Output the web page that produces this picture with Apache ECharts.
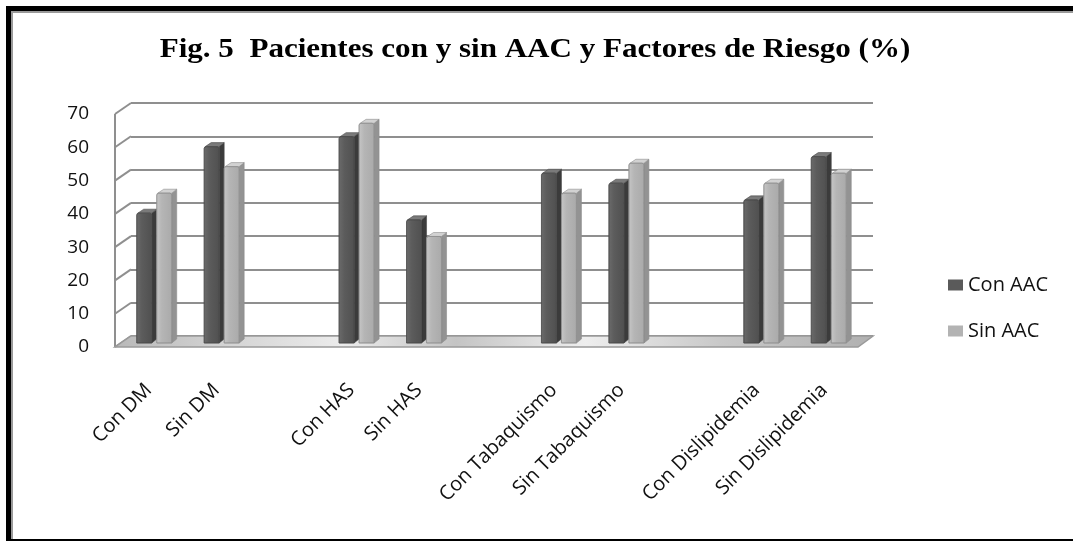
<!DOCTYPE html>
<html>
<head>
<meta charset="utf-8">
<title>Fig. 5</title>
<script src="https://cdn.jsdelivr.net/npm/echarts@6/dist/echarts.min.js"></script>
<style>
  html, body { margin: 0; padding: 0; background: #fff; }
  #chart { width: 1073px; height: 541px; }
</style>
</head>
<body>
<div id="chart"></div>
<script>
// Percent of patients with / without AAC for each risk factor.
// Empty strings are spacer slots between factor groups.
const categories = ['Con DM', 'Sin DM', '', 'Con HAS', 'Sin HAS', '', 'Con Tabaquismo', 'Sin Tabaquismo', '', 'Con Dislipidemia', 'Sin Dislipidemia'];
const conAAC = [39, 59, null, 62, 37, null, 51, 48, null, 43, 56];
const sinAAC = [45, 53, null, 66, 32, null, 45, 54, null, 48, 51];
const yTicks = { min: 0, max: 70, step: 10 };
const seriesNames = ['Con AAC', 'Sin AAC'];
const titleText = 'Fig. 5  Pacientes con y sin AAC y Factores de Riesgo (%)';

const W = 1073, H = 541;
// back wall of the 3D box and its front edge
const back = { left: 131, right: 873, top: 103, bottom: 336 };
const front = { left: 115, right: 858, top: 114, bottom: 347 };
// bars stand halfway between the back wall and the front edge
const depthShift = { x: -8, y: 7 };
const barFace = 15, barSide = 5, barRise = 4, barSlot = 20;

const palette = [
  { face: ['#6b6b6b', '#5c5c5c', '#505050'], side: '#3b3b3b', top: '#7a7a7a', stroke: '#4a4a4a' },
  { face: ['#c6c6c6', '#b5b5b5', '#aaaaaa'], side: '#939393', top: '#d2d2d2', stroke: '#8e8e8e' }
];

function faceGradient(c) {
  return new echarts.graphic.LinearGradient(0, 0, 1, 0, [
    { offset: 0, color: c[0] }, { offset: 0.35, color: c[1] }, { offset: 1, color: c[2] }
  ]);
}

function makeRender(si) {
  return function (params, api) {
    const v = api.value(1);
    if (v == null || isNaN(v)) return null;
    const idx = api.value(0);
    const pTop = api.coord([idx, v]);
    const pBase = api.coord([idx, 0]);
    const cx = pTop[0] + depthShift.x;
    const yt = pTop[1] + depthShift.y;
    const yb = pBase[1] + depthShift.y;
    const x0 = cx - barSlot + si * barSlot;
    const c = palette[si];
    return {
      type: 'group',
      children: [
        {
          type: 'polygon',
          shape: { points: [[x0 + barFace, yt], [x0 + barFace + barSide, yt - barRise], [x0 + barFace + barSide, yb - barRise], [x0 + barFace, yb]] },
          style: { fill: c.side, stroke: c.stroke, lineWidth: 0.6 }
        },
        {
          type: 'polygon',
          shape: { points: [[x0 + 1, yt], [x0 + barFace, yt], [x0 + barFace + barSide, yt - barRise], [x0 + barSide + 2, yt - barRise]] },
          style: { fill: c.top, stroke: c.stroke, lineWidth: 0.6 }
        },
        {
          type: 'rect',
          shape: { x: x0, y: yt, width: barFace, height: yb - yt, r: [2, 2, 0, 0] },
          style: { fill: faceGradient(c.face), stroke: c.stroke, lineWidth: 0.6 }
        }
      ]
    };
  };
}

const chart = echarts.init(document.getElementById('chart'), null, { renderer: 'canvas' });

const labelFont = '"Open Sans", "Noto Sans", sans-serif';

chart.setOption({
  animation: false,
  backgroundColor: '#ffffff',
  legend: {
    orient: 'vertical',
    left: 943,
    top: 270,
    itemWidth: 15,
    itemHeight: 11,
    itemGap: 26,
    icon: 'rect',
    textStyle: { fontFamily: labelFont, fontSize: 20, color: '#111' },
    data: seriesNames
  },
  grid: [
    { left: back.left, right: W - back.right, top: back.top, bottom: H - back.bottom },
    { left: front.left, right: W - front.right, top: front.top, bottom: H - front.bottom }
  ],
  xAxis: [
    { type: 'category', gridIndex: 0, data: categories, axisLine: { show: false }, axisTick: { show: false }, axisLabel: { show: false } },
    {
      type: 'category', gridIndex: 1, data: categories,
      axisLine: { show: false }, axisTick: { show: false },
      axisLabel: { rotate: 45, margin: 40, interval: 0, fontFamily: labelFont, fontSize: 20, color: '#111' }
    }
  ],
  yAxis: [
    {
      type: 'value', gridIndex: 0, min: yTicks.min, max: yTicks.max, interval: yTicks.step,
      axisLine: { show: false }, axisTick: { show: false }, axisLabel: { show: false },
      splitLine: { show: true, lineStyle: { color: '#8f8f8f', width: 2 } }
    },
    {
      type: 'value', gridIndex: 1, min: yTicks.min, max: yTicks.max, interval: yTicks.step,
      axisLine: { show: false }, axisTick: { show: false }, splitLine: { show: false },
      axisLabel: { margin: 26, fontFamily: labelFont, fontSize: 19, color: '#111' }
    }
  ],
  series: [
    {
      name: seriesNames[0], type: 'custom', xAxisIndex: 0, yAxisIndex: 0, z: 5,
      itemStyle: { color: '#5a5a5a' },
      renderItem: makeRender(0),
      data: conAAC.map((v, i) => [i, v])
    },
    {
      name: seriesNames[1], type: 'custom', xAxisIndex: 0, yAxisIndex: 0, z: 5,
      itemStyle: { color: '#b3b3b3' },
      renderItem: makeRender(1),
      data: sinAAC.map((v, i) => [i, v])
    }
  ]
});

// Box decoration: left wall edges and the floor, placed with the axis scales.
function decorate() {
  const yb = v => chart.convertToPixel({ yAxisIndex: 0 }, v);
  const yf = v => chart.convertToPixel({ yAxisIndex: 1 }, v);
  const els = [];
  for (let v = yTicks.min; v <= yTicks.max; v += yTicks.step) {
    els.push({ type: 'line', z: 1, shape: { x1: front.left, y1: yf(v), x2: back.left, y2: yb(v) }, style: { stroke: '#8f8f8f', lineWidth: 2 } });
  }
  els.push({ type: 'line', z: 1, shape: { x1: front.left, y1: yf(yTicks.min), x2: front.left, y2: yf(yTicks.max) }, style: { stroke: '#8f8f8f', lineWidth: 2 } });
  els.push({
    type: 'polygon', z: 2,
    shape: { points: [[front.left, yf(0)], [front.right, yf(0)], [back.right, yb(0)], [back.left, yb(0)]] },
    style: {
      fill: new echarts.graphic.LinearGradient(0, 0, 1, 0, [
        { offset: 0, color: '#b8b8b8' }, { offset: 0.12, color: '#cfcfcf' }, { offset: 0.3, color: '#ececec' },
        { offset: 0.45, color: '#c4c4c4' }, { offset: 0.62, color: '#eeeeee' }, { offset: 0.8, color: '#c8c8c8' }, { offset: 1, color: '#b0b0b0' }
      ]),
      stroke: '#9a9a9a', lineWidth: 1.5
    }
  });
  // chart title, widened to the book-face proportions
  els.push({
    type: 'text', z: 10, x: 535, y: 50, scaleX: 1.15,
    style: {
      text: titleText, textAlign: 'center', textVerticalAlign: 'middle',
      font: 'bold 27px "Liberation Serif", "DejaVu Serif", serif', fill: '#000'
    }
  });
  // page frame
  els.push({ type: 'rect', z: 10, shape: { x: 6, y: 6, width: W - 6, height: 5 }, style: { fill: '#000' } });
  els.push({ type: 'rect', z: 10, shape: { x: 6, y: 6, width: 5, height: H - 6 }, style: { fill: '#000' } });
  els.push({ type: 'rect', z: 10, shape: { x: 11, y: 11, width: W - 11, height: 2 }, style: { fill: '#9a9a9a' } });
  els.push({ type: 'rect', z: 10, shape: { x: 11, y: 11, width: 2, height: H - 11 }, style: { fill: '#9a9a9a' } });
  els.push({ type: 'rect', z: 10, shape: { x: 6, y: H - 2, width: W - 6, height: 2 }, style: { fill: '#000' } });
  chart.setOption({ graphic: { elements: els } });
}
decorate();
</script>
</body>
</html>
